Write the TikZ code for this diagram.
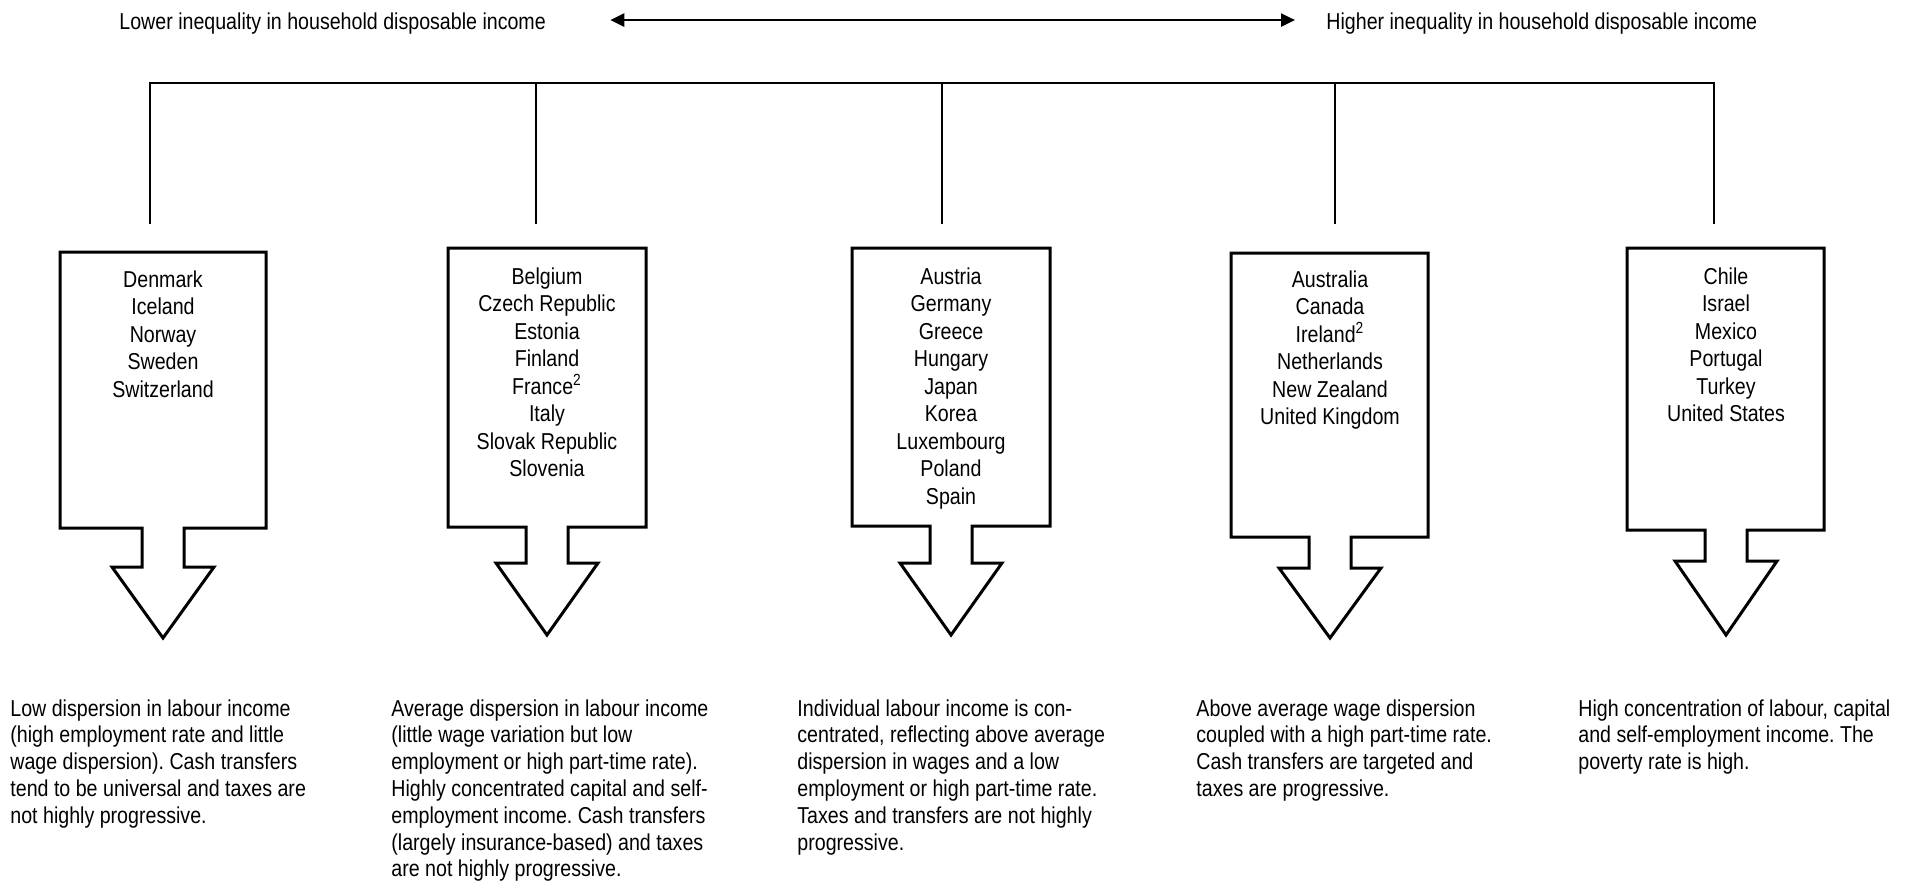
\documentclass[tikz,border=0pt]{standalone}
\usepackage{fontspec}
\setmainfont{Liberation Sans}[FakeStretch=0.853]
\usetikzlibrary{arrows.meta}
\frenchspacing
\begin{document}
\begin{tikzpicture}
		[x=0.5pt,y=-0.5pt,>={Triangle[length=7pt,width=6.5pt]},
		txt/.style={inner sep=0pt,font=\fontsize{11.5}{13.4}\selectfont},
		cty/.style={txt,align=center,anchor=north,font=\fontsize{11.5}{13.75}\selectfont},
		note/.style={txt,align=left,anchor=north west},
		blk/.style={draw,line width=1.5pt,fill=white},
		bar/.style={draw,line width=0.8pt}]
		\useasboundingbox (0,0) rectangle (1914,882);
		\node[txt,name=lo,anchor=base west]at(119,30){Lower inequality in household disposable income};
		\node[txt,name=hi,anchor=base west]at(1326,30){Higher inequality in household disposable income};
		\draw[<->,line width=1.2pt,shorten <=32pt,shorten >=15.5pt] ([yshift=2pt]lo.east) -- ([yshift=2pt]hi.west);
		\coordinate (t1) at (150,83);
		\coordinate (t2) at (536,83);
		\coordinate (t3) at (942,83);
		\coordinate (t4) at (1335,83);
		\coordinate (t5) at (1714,83);
		\coordinate (e1) at (150,224);
		\coordinate (e2) at (536,224);
		\coordinate (e3) at (942,224);
		\coordinate (e4) at (1335,224);
		\coordinate (e5) at (1714,224);
		\draw[bar] (e1) -- (t1) -- (t5) -- (e5);
		\draw[bar] (t2) -- (e2);
		\draw[bar] (t3) -- (e3);
		\draw[bar] (t4) -- (e4);
		\draw[blk] (60,252) -- (266,252) -- (266,528) -- (184,528) -- (184,567) -- (214,567) -- (163,638) -- (112,567) -- (142,567) -- (142,528) -- (60,528) -- cycle;
		\draw[blk] (448,248) -- (646,248) -- (646,527) -- (568,527) -- (568,563) -- (598,563) -- (547,635) -- (496,563) -- (526,563) -- (526,527) -- (448,527) -- cycle;
		\draw[blk] (852,248) -- (1050,248) -- (1050,526) -- (972,526) -- (972,563) -- (1002,563) -- (951,635) -- (900,563) -- (930,563) -- (930,526) -- (852,526) -- cycle;
		\draw[blk] (1231,253) -- (1428,253) -- (1428,537) -- (1351,537) -- (1351,568) -- (1381,568) -- (1330,638) -- (1279,568) -- (1309,568) -- (1309,537) -- (1231,537) -- cycle;
		\draw[blk] (1627,248) -- (1824,248) -- (1824,530) -- (1747,530) -- (1747,561) -- (1777,561) -- (1726,635) -- (1675,561) -- (1705,561) -- (1705,530) -- (1627,530) -- cycle;
		\node[cty,name=c1]at(163,270){Denmark\\Iceland\\Norway\\Sweden\\Switzerland};
		\node[cty,name=c2]at(547,267){Belgium\\Czech Republic\\Estonia\\Finland\\France\textsuperscript{2}\\Italy\\Slovak Republic\\Slovenia};
		\node[cty,name=c3]at(951,267){Austria\\Germany\\Greece\\Hungary\\Japan\\Korea\\Luxembourg\\Poland\\Spain};
		\node[cty,name=c4]at(1330,270){Australia\\Canada\\Ireland\textsuperscript{2}\\Netherlands\\New Zealand\\United Kingdom};
		\node[cty,name=c5]at(1726,267){Chile\\Israel\\Mexico\\Portugal\\Turkey\\United States};
		\node[note,name=d1]at(10,699){Low dispersion in labour income\\(high employment rate and little\\wage dispersion). Cash transfers\\tend to be universal and taxes are\\not highly progressive.};
		\node[note,name=d2]at(391,699){Average dispersion in labour income\\(little wage variation but low\\employment or high part-time rate).\\Highly concentrated capital and self-\\employment income. Cash transfers\\(largely insurance-based) and taxes\\are not highly progressive.};
		\node[note,name=d3]at(797,699){Individual labour income is con-\\centrated, reflecting above average\\dispersion in wages and a low\\employment or high part-time rate.\\Taxes and transfers are not highly\\progressive.};
		\node[note,name=d4]at(1196,699){Above average wage dispersion\\coupled with a high part-time rate.\\Cash transfers are targeted and\\taxes are progressive.};
		\node[note,name=d5]at(1578,699){High concentration of labour, capital\\and self-employment income. The\\poverty rate is high.};
	\end{tikzpicture}
\end{document}
